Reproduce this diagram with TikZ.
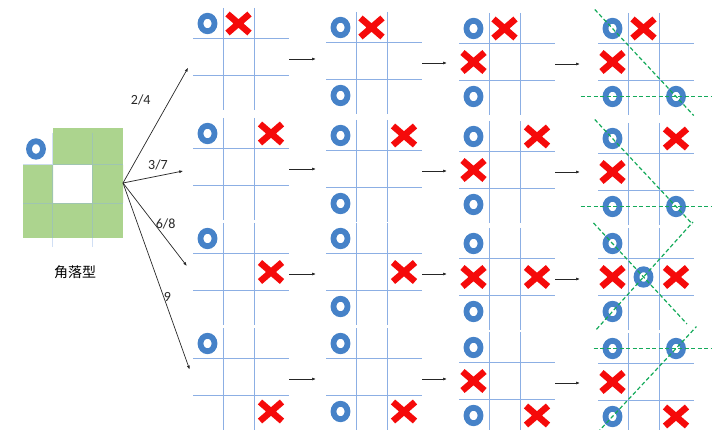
\documentclass[tikz,border=0pt]{standalone}
\usepackage{fontspec}
\setmainfont{Carlito}
\newfontfamily\cjk{Noto Sans CJK SC}
\usepackage{tikz}
\usetikzlibrary{arrows.meta,positioning,shapes.geometric,shapes.misc}

\definecolor{gridblue}{RGB}{140,175,228}
\definecolor{oblue}{RGB}{70,130,200}
\definecolor{xred}{RGB}{245,10,10}
\definecolor{wingreen}{RGB}{20,170,90}
\definecolor{tilegreen}{RGB}{172,212,142}

% one board: name, x of first vertical line, y of first horizontal line
\newcommand{\board}[3]{%
  \node[board] (#1) at (#2+18,#3+21) {};
  \draw[gridline] (#2,#3-30) -- (#2,#3+72) (#2+31,#3-30) -- (#2+31,#3+72)
    (#2-30,#3) -- (#2+66,#3) (#2-30,#3+37) -- (#2+66,#3+37);
  \foreach \ci/\cx in {0/-15.5,1/15.5,2/48}
    \foreach \ri/\ry in {0/-14.5,1/19,2/53.5}
      \coordinate (#1-\ci\ri) at (#2+\cx,#3+\ry);%
}
\newcommand{\markO}[3]{\node[omark] (#1o#2#3) at (#1-#2#3) {};}
\newcommand{\markX}[3]{\node[xmark] (#1x#2#3) at (#1-#2#3) {};}

\begin{document}
\begin{tikzpicture}[x=1pt, y=-1pt,
  board/.style={rectangle, minimum width=96pt, minimum height=102pt, inner sep=0pt, outer sep=0pt},
  gridline/.style={draw=gridblue, line width=0.8pt},
  omark/.style={ellipse, draw=oblue, line width=5.8pt, minimum width=14pt, minimum height=15.5pt, inner sep=0pt},
  xmark/.style={cross out, draw=xred, line width=6.5pt, minimum width=15.5pt, minimum height=12.5pt, inner sep=0pt},
  arr/.style={-{Latex[length=4pt,width=3pt]}, line width=0.7pt, black!85},
  winline/.style={draw=wingreen, line width=1.2pt, dash pattern=on 4pt off 2.5pt},
  lbl/.style={font=\fontsize{14}{16}\selectfont, inner sep=2pt}]
\useasboundingbox (0,0) rectangle (712,430);

% corner pattern
\fill[tilegreen] (53,128) rectangle (123,165);
\fill[tilegreen] (23,165) rectangle (53,203) (92,165) rectangle (123,203);
\fill[tilegreen] (23,203) rectangle (123,238);
\draw[gridline, opacity=.4] (52,133) -- (52,247) (92,133) -- (92,247) (23,164) -- (123,164) (23,203) -- (123,203);
\node[board, minimum width=100pt, minimum height=110pt] (corner) at (73,183) {};
\node[omark] (cornero) at (36,149) {};
\node[font=\cjk\fontsize{14}{16}\selectfont] (cname) at (75,272) {角落型};

% boards
\board{b11}{223}{38}  \board{b12}{356}{42}  \board{b13}{489}{43}  \board{b14}{628}{43}
\board{b21}{223}{148} \board{b22}{356}{150} \board{b23}{489}{151} \board{b24}{628}{153}
\board{b31}{223}{253} \board{b32}{356}{253} \board{b33}{489}{258} \board{b34}{628}{258}
\board{b41}{223}{358} \board{b42}{356}{358} \board{b43}{489}{362} \board{b44}{628}{363}

% marks
\markO{b11}{0}{0} \markX{b11}{1}{0}
\markO{b12}{0}{0} \markX{b12}{1}{0} \markO{b12}{0}{2}
\markO{b13}{0}{0} \markX{b13}{1}{0} \markX{b13}{0}{1} \markO{b13}{0}{2}
\markO{b14}{0}{0} \markX{b14}{1}{0} \markX{b14}{0}{1} \markO{b14}{0}{2} \markO{b14}{2}{2}

\markO{b21}{0}{0} \markX{b21}{2}{0}
\markO{b22}{0}{0} \markX{b22}{2}{0} \markO{b22}{0}{2}
\markO{b23}{0}{0} \markX{b23}{2}{0} \markX{b23}{0}{1} \markO{b23}{0}{2}
\markO{b24}{0}{0} \markX{b24}{2}{0} \markX{b24}{0}{1} \markO{b24}{0}{2} \markO{b24}{2}{2}

\markO{b31}{0}{0} \markX{b31}{2}{1}
\markO{b32}{0}{0} \markX{b32}{2}{1} \markO{b32}{0}{2}
\markO{b33}{0}{0} \markX{b33}{0}{1} \markX{b33}{2}{1} \markO{b33}{0}{2}
\markO{b34}{0}{0} \markX{b34}{0}{1} \markO{b34}{1}{1} \markX{b34}{2}{1} \markO{b34}{0}{2}

\markO{b41}{0}{0} \markX{b41}{2}{2}
\markO{b42}{0}{0} \markO{b42}{0}{2} \markX{b42}{2}{2}
\markO{b43}{0}{0} \markX{b43}{0}{1} \markO{b43}{0}{2} \markX{b43}{2}{2}
\markO{b44}{0}{0} \markO{b44}{2}{0} \markX{b44}{0}{1} \markO{b44}{0}{2} \markX{b44}{2}{2}

% winning lines
\draw[winline, shorten <=-26pt, shorten >=-26pt] (b14o00.center) -- (b14o22.center);
\draw[winline, shorten <=-32pt, shorten >=-40pt] (b14o02.center) -- (b14o22.center);
\draw[winline, shorten <=-26pt, shorten >=-24pt] (b24o00.center) -- (b24o22.center);
\draw[winline, shorten <=-32pt, shorten >=-40pt] (b24o02.center) -- (b24o22.center);
\draw[winline, shorten <=-28pt, shorten >=-64pt] (b34o00.center) -- (b34o11.center);
\draw[winline, shorten <=-24pt, shorten >=-74pt] (b34o02.center) -- (b34o11.center);
\draw[winline, shorten <=-19pt, shorten >=-40pt] (b44o00.center) -- (b44o20.center);
\draw[winline, shorten <=-22pt, shorten >=-30pt] (b44o02.center) -- (b44o20.center);

% fan from the corner pattern
\draw[arr, shorten >=10pt] (corner.east) -- node[lbl, pos=.67, left=17pt] {2/4} (b11.west);
\draw[arr, shorten >=10pt] (corner.east) -- node[lbl, pos=.5, above=4pt] {3/7} (b21.west);
\draw[arr, shorten >=10pt] (corner.east) -- node[lbl, pos=.45, right=-1pt] {6/8} (b31.west);
\draw[arr, shorten >=10pt] (corner.east) -- node[lbl, pos=.58, right=-2pt] {9} (b41.west);

% steps along each row
\foreach \r in {1,...,4}{
  \draw[arr, shorten >=10pt] (b\r1.east) -- (b\r1.east -| b\r2.west);
  \draw[arr, shorten >=12pt] (b\r2.east) -- (b\r2.east -| b\r3.west);
  \draw[arr, shorten >=18pt] (b\r3.east) -- (b\r3.east -| b\r4.west);
}
\end{tikzpicture}
\end{document}
